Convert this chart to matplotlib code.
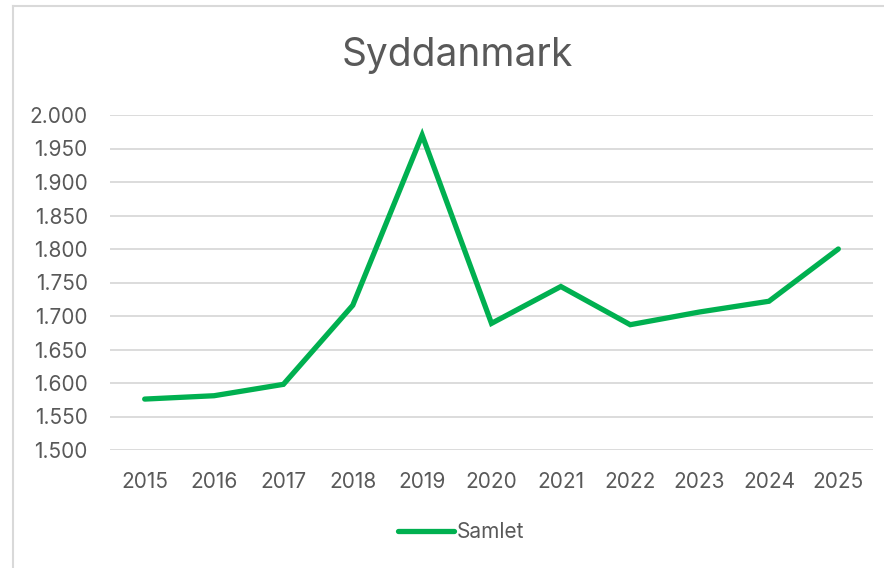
import matplotlib.pyplot as plt
from matplotlib.lines import Line2D

# Data
aar = ["2015", "2016", "2017", "2018", "2019", "2020", "2021", "2022", "2023", "2024", "2025"]
samlet = [1.576, 1.581, 1.598, 1.716, 1.970, 1.689, 1.744, 1.687, 1.706, 1.722, 1.800]
y_ticks = [1.500, 1.550, 1.600, 1.650, 1.700, 1.750, 1.800, 1.850, 1.900, 1.950, 2.000]

tekst_farve = "#595959"
grid_farve = "#D9D9D9"
linje_farve = "#00B050"

plt.rcParams['font.family'] = ['Inter', 'DejaVu Sans']

fig = plt.figure(figsize=(8.84, 5.68), dpi=100)
W, H = 884, 568

# Chart area frame (left and top edges visible)
fig.add_artist(Line2D([12.5 / W, 12.5 / W], [0, 1 - 6 / H], transform=fig.transFigure,
                      color=grid_farve, lw=1.5))
fig.add_artist(Line2D([12.5 / W, 1], [1 - 6 / H, 1 - 6 / H], transform=fig.transFigure,
                      color=grid_farve, lw=1.5))

ax = fig.add_axes([110 / W, 1 - 450 / H, (873 - 110) / W, (450 - 115) / H])

x = list(range(len(aar)))
ax.plot(x, samlet, color=linje_farve, lw=3.8, solid_capstyle='round',
        solid_joinstyle='miter', label="Samlet", zorder=3)

ax.set_xlim(-0.5, len(aar) - 0.5)
ax.set_ylim(1.5, 2.0)
ax.set_yticks(y_ticks)
ax.set_yticklabels([f"{v:.3f}" for v in y_ticks])
ax.set_xticks(x)
ax.set_xticklabels(aar)

ax.grid(axis='y', color=grid_farve, lw=1.3)
ax.set_axisbelow(True)
for s in ax.spines.values():
    s.set_visible(False)
ax.tick_params(axis='both', length=0, labelsize=15, colors=tekst_farve)
ax.tick_params(axis='y', pad=16)
ax.tick_params(axis='x', pad=16)

fig.text(457 / W, 1 - 55 / H, "Syddanmark", ha='center', va='center',
         fontsize=28, color=tekst_farve)

leg = ax.legend(loc='center', bbox_to_anchor=(461 / W, 1 - 532 / H),
                bbox_transform=fig.transFigure, frameon=False, fontsize=15,
                handlelength=2.7, handletextpad=0.15)
for t in leg.get_texts():
    t.set_color(tekst_farve)

fig.savefig("out.png", dpi=100, facecolor="white")
